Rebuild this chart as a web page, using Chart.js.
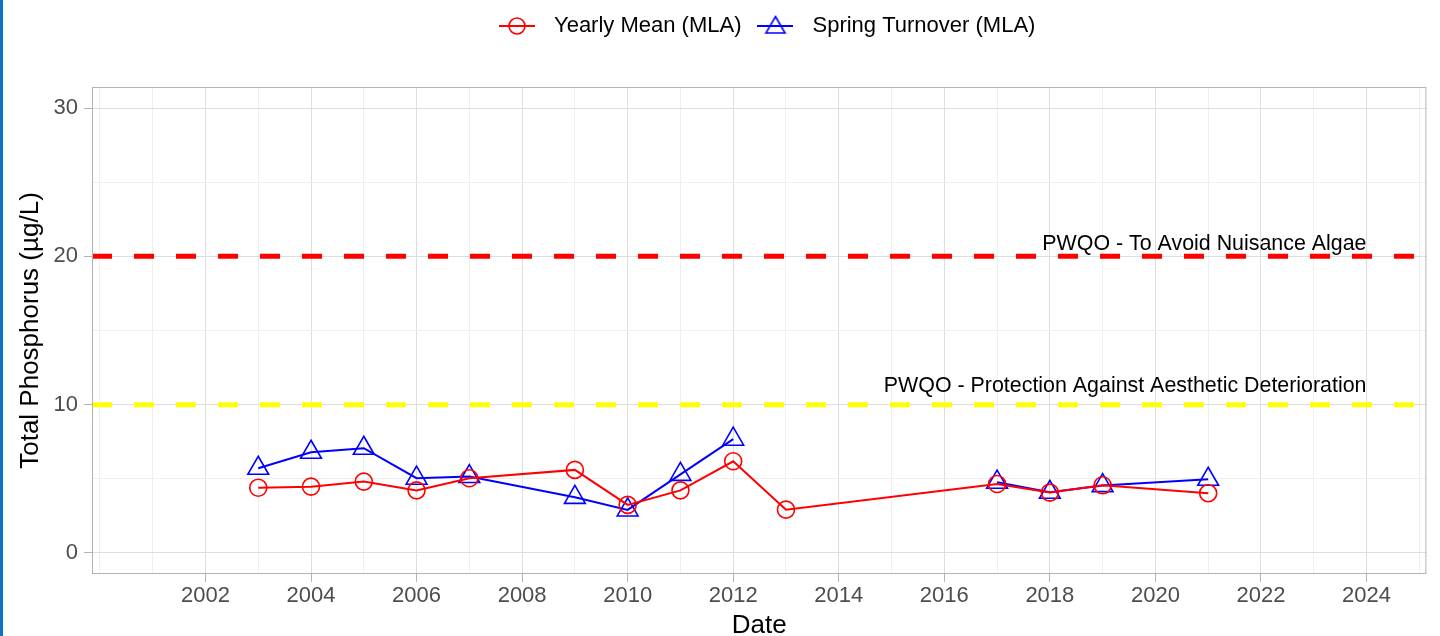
<!DOCTYPE html>
<html lang="en">
<head>
<meta charset="UTF-8">
<title>Total Phosphorus</title>
<script src="https://cdn.jsdelivr.net/npm/chart.js"></script>
<style>
  body { margin: 0; background: #fff; }
  .wrap { position: relative; width: 1440px; height: 636px; overflow: hidden; }
  canvas { display: block; }
  .edge { position: absolute; left: 0; top: 0; width: 3px; height: 636px; background: #0e72c6; }
</style>
</head>
<body>
<div class="wrap">
  <canvas id="chart" width="1440" height="636"></canvas>
  <div class="edge"></div>
</div>
<script>
  // sampling years (spring turnover has no value in 2013)
  const years = [2003, 2004, 2005, 2006, 2007, 2009, 2010, 2011, 2012, 2013, 2017, 2018, 2019, 2021];
  const yearlyMean = [4.40, 4.47, 4.81, 4.22, 5.04, 5.60, 3.24, 4.22, 6.18, 2.92, 4.65, 4.07, 4.56, 4.03];
  const springTurnover = [5.71, 6.79, 7.06, 5.04, 5.15, 3.75, 2.90, 5.30, 7.67, null, 4.77, 4.09, 4.54, 4.97];

  const thresholds = [20, 10];
  const thresholdNames = ["PWQO - To Avoid Nuisance Algae", "PWQO - Protection Against Aesthetic Deterioration"];

  const xTickYears = [2002, 2004, 2006, 2008, 2010, 2012, 2014, 2016, 2018, 2020, 2022, 2024];
  const yTickValues = [0, 10, 20, 30];

  const X_MIN = 1999.85, X_MAX = 2025.135;
  const Y_MIN = -1.42, Y_MAX = 31.42;
  const LABEL_YEAR = 2024;

  const FONT = '"Liberation Sans", Arial, sans-serif';
  Chart.defaults.font.family = FONT;

  function pts(vals) {
    return years.map((yr, i) => ({ x: yr, y: vals[i] }));
  }
  function hline(v) {
    return [{ x: X_MIN, y: v }, { x: X_MAX, y: v }];
  }

  // legend key: line through the marker, like ggplot
  function makeKey(color, shape) {
    const c = document.createElement('canvas');
    c.width = 36; c.height = 24;
    const g = c.getContext('2d');
    g.strokeStyle = color;
    g.lineWidth = 2;
    g.beginPath(); g.moveTo(0, 12); g.lineTo(36, 12); g.stroke();
    g.lineWidth = 1.6;
    g.beginPath();
    if (shape === 'circle') {
      g.arc(18, 12, 8, 0, Math.PI * 2);
    } else {
      const r = 11;
      for (let k = 0; k < 3; k++) {
        const a = k * 2 * Math.PI / 3;
        const px = 18 + Math.sin(a) * r, py = 12 + 1.5 - Math.cos(a) * r;
        if (k === 0) g.moveTo(px, py); else g.lineTo(px, py);
      }
      g.closePath();
    }
    g.stroke();
    return c;
  }
  const keys = [makeKey('#ff0000', 'circle'), makeKey('#0000ff', 'triangle')];

  const panelExtras = {
    id: 'panelExtras',
    beforeInit(chart) {
      const lg = chart.legend;
      if (!lg) return;
      const fit = lg.fit;
      lg.fit = function () {
        fit.call(this);
        this.height += 40;
      };
      const draw = lg.draw;
      lg.draw = function () {
        this.ctx.save();
        this.ctx.translate(4, 0);
        draw.call(this);
        this.ctx.restore();
      };
    },
    afterDatasetsDraw(chart) {
      const { ctx, chartArea: a, scales: { x, y } } = chart;
      ctx.save();
      ctx.font = '21.4px ' + FONT;
      ctx.fillStyle = '#000';
      ctx.textAlign = 'right';
      ctx.textBaseline = 'middle';
      const lift = [12, 19];
      thresholds.forEach((t, i) => {
        ctx.fillText(thresholdNames[i], x.getPixelForValue(LABEL_YEAR), y.getPixelForValue(t) - lift[i]);
      });
      ctx.strokeStyle = '#b3b3b3';
      ctx.lineWidth = 1;
      ctx.strokeRect(a.left + 0.5, a.top + 0.5, a.right - a.left - 1, a.bottom - a.top - 1);
      ctx.restore();
    }
  };

  new Chart(document.getElementById('chart'), {
    type: 'line',
    data: {
      datasets: [
        {
          label: 'Yearly Mean (MLA)',
          data: pts(yearlyMean),
          borderColor: '#ff0000',
          backgroundColor: 'rgba(0,0,0,0)',
          borderWidth: 2,
          pointStyle: 'circle',
          pointRadius: 8.5,
          pointBorderWidth: 1.6,
          tension: 0
        },
        {
          label: 'Spring Turnover (MLA)',
          data: pts(springTurnover),
          borderColor: '#0000ff',
          backgroundColor: 'rgba(0,0,0,0)',
          borderWidth: 2,
          pointStyle: 'triangle',
          pointRadius: 12,
          pointBorderWidth: 1.6,
          spanGaps: false,
          tension: 0
        },
        {
          label: 'nuisance',
          data: hline(thresholds[0]),
          borderColor: '#ff0000',
          borderWidth: 5,
          borderDash: [20, 22],
          pointRadius: 0
        },
        {
          label: 'aesthetic',
          data: hline(thresholds[1]),
          borderColor: '#ffff00',
          borderWidth: 5,
          borderDash: [20, 22],
          pointRadius: 0
        }
      ]
    },
    options: {
      responsive: false,
      animation: false,
      layout: { padding: { left: 0, right: 12, top: 7, bottom: 0 } },
      plugins: {
        tooltip: { enabled: false },
        legend: {
          position: 'top',
          fullSize: false,
          labels: {
            usePointStyle: true,
            pointStyleWidth: 52,
            padding: 8,
            color: '#000',
            font: { size: 22 },
            generateLabels(chart) {
              const items = Chart.defaults.plugins.legend.labels.generateLabels(chart);
              return items.filter(it => it.datasetIndex < 2)
                .map(it => Object.assign(it, { pointStyle: keys[it.datasetIndex] }));
            }
          }
        }
      },
      scales: {
        x: {
          type: 'linear',
          min: X_MIN,
          max: X_MAX,
          afterFit(s) { s.height = 62; },
          border: { display: false },
          grid: {
            color: c => xTickYears.includes(c.tick.value) ? '#dedede' : '#efefef',
            tickColor: c => xTickYears.includes(c.tick.value) ? '#b3b3b3' : 'rgba(0,0,0,0)',
            tickLength: 8,
            lineWidth: 1
          },
          ticks: {
            stepSize: 1,
            includeBounds: false,
            autoSkip: false,
            maxRotation: 0,
            padding: 1,
            color: '#4d4d4d',
            font: { size: 22 },
            callback: v => xTickYears.includes(v) ? String(v) : ''
          },
          title: {
            display: true,
            text: 'Date',
            color: '#000',
            font: { size: 26 },
            padding: { top: 0, bottom: -5 }
          }
        },
        y: {
          min: Y_MIN,
          max: Y_MAX,
          afterFit(s) { s.width = 92; },
          border: { display: false },
          grid: {
            color: c => yTickValues.includes(c.tick.value) ? '#dedede' : '#efefef',
            tickColor: c => yTickValues.includes(c.tick.value) ? '#b3b3b3' : 'rgba(0,0,0,0)',
            tickLength: 8,
            lineWidth: 1
          },
          ticks: {
            stepSize: 5,
            includeBounds: false,
            padding: 6,
            color: '#4d4d4d',
            font: { size: 22 },
            callback: v => yTickValues.includes(v) ? String(v) : ''
          },
          title: {
            display: true,
            text: 'Total Phosphorus (µg/L)',
            color: '#000',
            font: { size: 26 },
            padding: { top: 15, bottom: 0 }
          }
        }
      }
    },
    plugins: [panelExtras]
  });
</script>
</body>
</html>
